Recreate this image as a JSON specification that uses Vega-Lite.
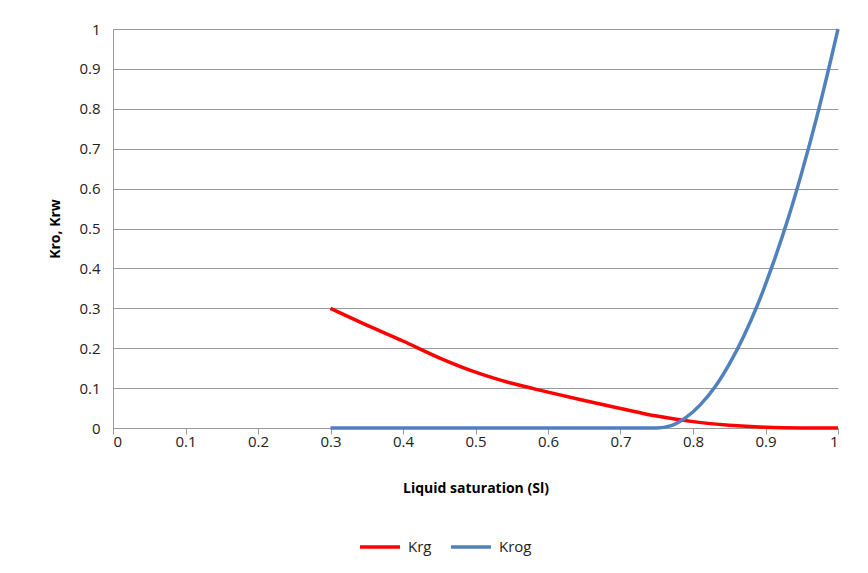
{
  "$schema": "https://vega.github.io/schema/vega-lite/v6.json",
  "width": 725,
  "height": 399,
  "autosize": {"type": "none"},
  "padding": {"left": 113, "top": 29, "right": 30, "bottom": 145},
  "background": "white",
  "config": {
    "view": {"stroke": null},
    "font": "Open Sans",
    "axis": {
      "labelFont": "Open Sans",
      "labelFontSize": 15,
      "labelColor": "#222222",
      "titleFont": "Open Sans",
      "titleFontSize": 14,
      "titleFontWeight": "bold",
      "titleColor": "#000000",
      "domainColor": "#999999",
      "tickColor": "#999999",
      "gridColor": "#999999",
      "gridWidth": 1
    }
  },
  "data": {
    "values": [
      {"s": 0.30, "k": 0.300, "series": "Krg"},
      {"s": 0.35, "k": 0.258, "series": "Krg"},
      {"s": 0.40, "k": 0.218, "series": "Krg"},
      {"s": 0.45, "k": 0.176, "series": "Krg"},
      {"s": 0.50, "k": 0.140, "series": "Krg"},
      {"s": 0.55, "k": 0.112, "series": "Krg"},
      {"s": 0.60, "k": 0.090, "series": "Krg"},
      {"s": 0.65, "k": 0.069, "series": "Krg"},
      {"s": 0.70, "k": 0.049, "series": "Krg"},
      {"s": 0.75, "k": 0.030, "series": "Krg"},
      {"s": 0.80, "k": 0.016, "series": "Krg"},
      {"s": 0.85, "k": 0.007, "series": "Krg"},
      {"s": 0.90, "k": 0.002, "series": "Krg"},
      {"s": 0.95, "k": 0.0003, "series": "Krg"},
      {"s": 1.00, "k": 0.000, "series": "Krg"},
      {"s": 0.30, "k": 0.000, "series": "Krog"},
      {"s": 0.50, "k": 0.000, "series": "Krog"},
      {"s": 0.70, "k": 0.000, "series": "Krog"},
      {"s": 0.75, "k": 0.000, "series": "Krog"},
      {"s": 0.77, "k": 0.006, "series": "Krog"},
      {"s": 0.79, "k": 0.026, "series": "Krog"},
      {"s": 0.81, "k": 0.058, "series": "Krog"},
      {"s": 0.83, "k": 0.102, "series": "Krog"},
      {"s": 0.85, "k": 0.160, "series": "Krog"},
      {"s": 0.87, "k": 0.230, "series": "Krog"},
      {"s": 0.89, "k": 0.313, "series": "Krog"},
      {"s": 0.91, "k": 0.410, "series": "Krog"},
      {"s": 0.93, "k": 0.518, "series": "Krog"},
      {"s": 0.95, "k": 0.640, "series": "Krog"},
      {"s": 0.97, "k": 0.774, "series": "Krog"},
      {"s": 0.99, "k": 0.922, "series": "Krog"},
      {"s": 1.00, "k": 1.000, "series": "Krog"}
    ]
  },
  "mark": {"type": "line", "strokeWidth": 3.5, "interpolate": "monotone", "clip": false},
  "encoding": {
    "x": {
      "field": "s",
      "type": "quantitative",
      "scale": {"domain": [0, 1], "nice": false},
      "axis": {
        "title": "Liquid saturation (Sl)",
        "values": [0, 0.1, 0.2, 0.3, 0.4, 0.5, 0.6, 0.7, 0.8, 0.9, 1],
        "format": "~g",
        "grid": false,
        "tickSize": 6,
        "labelFontSize": 15,
        "labelPadding": 0,
        "titlePadding": 32
      }
    },
    "y": {
      "field": "k",
      "type": "quantitative",
      "scale": {"domain": [0, 1], "nice": false},
      "axis": {
        "title": "Kro, Krw",
        "values": [0, 0.1, 0.2, 0.3, 0.4, 0.5, 0.6, 0.7, 0.8, 0.9, 1],
        "format": "~g",
        "grid": true,
        "ticks": false,
        "labelFontSize": 15,
        "labelPadding": 13,
        "titlePadding": 16
      }
    },
    "color": {
      "field": "series",
      "type": "nominal",
      "scale": {"domain": ["Krg", "Krog"], "range": ["#ff0000", "#4f81bd"]},
      "legend": {
        "title": null,
        "orient": "none",
        "direction": "horizontal",
        "legendX": 245,
        "legendY": 496,
        "symbolType": "stroke",
        "symbolSize": 1600,
        "symbolStrokeWidth": 3.5,
        "labelFont": "Open Sans",
        "labelFontSize": 15,
        "labelColor": "#222222",
        "labelOffset": 6,
        "columnPadding": 12
      }
    }
  }
}
